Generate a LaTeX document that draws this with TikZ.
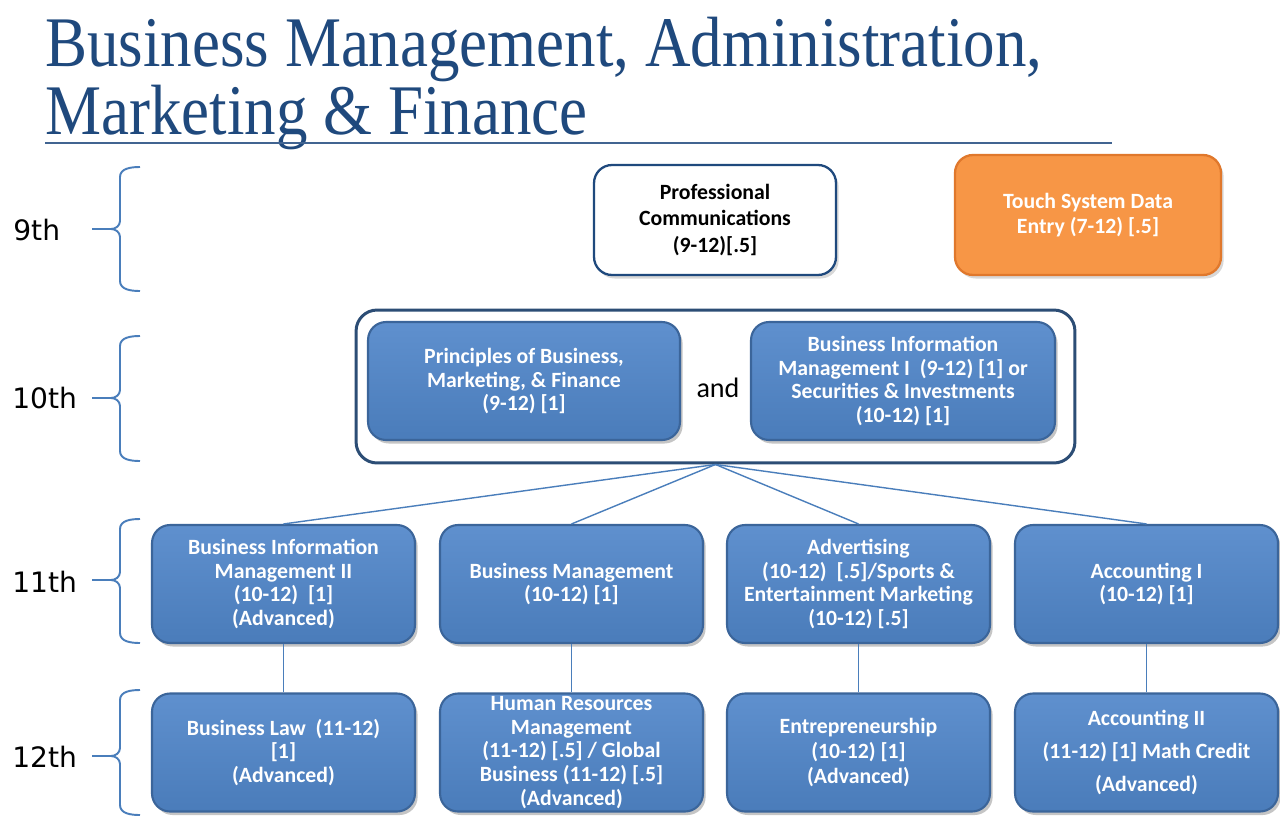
\documentclass[tikz,border=0pt]{standalone}
\usepackage{fontspec}
\setmainfont{Carlito}
\newfontfamily\titlefont{Liberation Serif}
\newfontfamily\gradefont{DejaVu Sans}
\usetikzlibrary{shadows}
\definecolor{titleblue}{HTML}{1F497D}
\definecolor{boxblue}{HTML}{4A7CBA}
\definecolor{boxtop}{HTML}{5F90CE}
\definecolor{boxedge}{HTML}{3B659A}
\definecolor{linkblue}{HTML}{4A7EBB}
\definecolor{orangefill}{HTML}{F79646}
\definecolor{orangeedge}{HTML}{E0782C}
\definecolor{outlineblue}{HTML}{2C4D75}
\tikzset{
  course/.style={draw=boxedge, line width=1.2pt, rounded corners=0.36cm,
    top color=boxtop, bottom color=boxblue, text=white, inner sep=0pt,
    font=\bfseries\fontsize{12.4}{13.6}\selectfont, align=center,
    drop shadow={opacity=0.45, shadow xshift=1.5pt, shadow yshift=-2pt}},
  rowbox/.style={course, minimum width=5.26cm, minimum height=2.36cm},
  link/.style={draw=linkblue, line width=0.8pt},
  grade/.style={font=\gradefont\fontsize{16}{19}\selectfont, text=black, inner sep=0pt},
  bracket/.style={draw=linkblue, line width=1.1pt},
  titletext/.style={font=\titlefont\fontsize{40.5}{48}\selectfont, text=titleblue, inner sep=0pt}
}
\newcommand{\gradebrace}[3]{%
  \draw[bracket] (140,#1) to[out=180,in=90] (120,#1+10) -- (120,#3-8)
    to[out=-90,in=0] (111,#3) -- (92,#3);
  \draw[bracket] (111,#3) to[out=0,in=90] (120,#3+8) -- (120,#2-10)
    to[out=-90,in=180] (140,#2);}
\begin{document}
\begin{tikzpicture}[x=0.02cm, y=-0.02cm]
\useasboundingbox (0,0) rectangle (1280,818);
\fill[white] (0,0) rectangle (1280,818);

% title
\node[titletext, anchor=base west] (t1) at (45,66) {\scalebox{0.885}[1]{Business Management, Administration,}};
\node[titletext, anchor=base west] (t2) at (45,134) {\scalebox{0.885}[1]{Marketing \& Finance}};
\draw[titleblue!85, line width=1.1pt] (45,143) -- (1112,143);

% grade labels and brackets
\node[grade, anchor=west] (g9) at (13,230) {9th};
\node[grade, anchor=west] (g10) at (12,398) {10th};
\node[grade, anchor=west] (g11) at (12,582) {11th};
\node[grade, anchor=west] (g12) at (12,757) {12th};
\gradebrace{167}{291}{229}
\gradebrace{336}{461}{398}
\gradebrace{519}{643}{580}
\gradebrace{690}{815}{756}

% 9th grade
\node[draw=titleblue, line width=1.3pt, rounded corners=0.36cm, fill=white,
  minimum width=4.84cm, minimum height=2.2cm, inner sep=0pt, align=center,
  font=\bfseries\fontsize{12.4}{15.2}\selectfont, text=black,
  drop shadow={opacity=0.3, shadow xshift=1.5pt, shadow yshift=-2pt}] (prof) at (715,220)
  {Professional\\Communications\\(9-12)[.5]};
\node[draw=orangeedge, line width=1.3pt, rounded corners=0.36cm, fill=orangefill,
  minimum width=5.32cm, minimum height=2.4cm, inner sep=0pt, align=center,
  font=\bfseries\fontsize{12.4}{14}\selectfont, text=white,
  drop shadow={opacity=0.3, shadow xshift=1.5pt, shadow yshift=-2pt}] (touch) at (1088,215)
  {Touch System Data\\Entry (7-12) [.5]};

% 10th grade
\node[draw=outlineblue, line width=1.7pt, rounded corners=0.42cm, fill=white,
  minimum width=14.38cm, minimum height=3.06cm, inner sep=0pt] (group) at (715.5,386.5) {};
\node[course, minimum width=6.24cm, minimum height=2.36cm] (pbmf) at (524,381)
  {Principles of Business,\\Marketing, \& Finance\\(9-12) [1]};
\node[course, minimum width=6.08cm, minimum height=2.36cm] (bim1) at (903,381)
  {Business Information\\Management I\ \ (9-12) [1] or\\Securities \& Investments\\(10-12) [1]};
\node[font=\fontsize{16}{18}\selectfont, text=black, inner sep=0pt] (and) at (718,388) {and};

% 11th grade
\node[rowbox] (bim2) at (283.5,584) {Business Information\\Management II\\(10-12)\ \ [1]\\(Advanced)};
\node[rowbox] (bm) at (571.5,584) {Business Management\\(10-12) [1]};
\node[rowbox] (adv) at (858.5,584) {Advertising\\(10-12)\ \ [.5]/Sports \&\\Entertainment Marketing\\(10-12) [.5]};
\node[rowbox] (acc1) at (1146.5,584) {Accounting I\\(10-12) [1]};

% 12th grade
\node[rowbox] (law) at (283.5,752.5) {Business Law\ \ (11-12)\\{[1]}\\(Advanced)};
\node[rowbox] (hr) at (571.5,752.5) {Human Resources\\Management\\(11-12) [.5] / Global\\Business (11-12) [.5]\\(Advanced)};
\node[rowbox, font=\bfseries\fontsize{12.4}{14.5}\selectfont] (ent) at (858.5,752.5) {Entrepreneurship\\(10-12) [1]\\(Advanced)};
\node[rowbox, font=\bfseries\fontsize{12.4}{18.8}\selectfont] (acc2) at (1146.5,752.5) {Accounting II\\(11-12) [1] Math Credit\\(Advanced)};

% connectors
\draw[link] (group.south) -- (bim2.north);
\draw[link] (group.south) -- (bm.north);
\draw[link] (group.south) -- (adv.north);
\draw[link] (group.south) -- (acc1.north);
\draw[link] (bim2.south) -- (law.north);
\draw[link] (bm.south) -- (hr.north);
\draw[link] (adv.south) -- (ent.north);
\draw[link] (acc1.south) -- (acc2.north);
\end{tikzpicture}
\end{document}
